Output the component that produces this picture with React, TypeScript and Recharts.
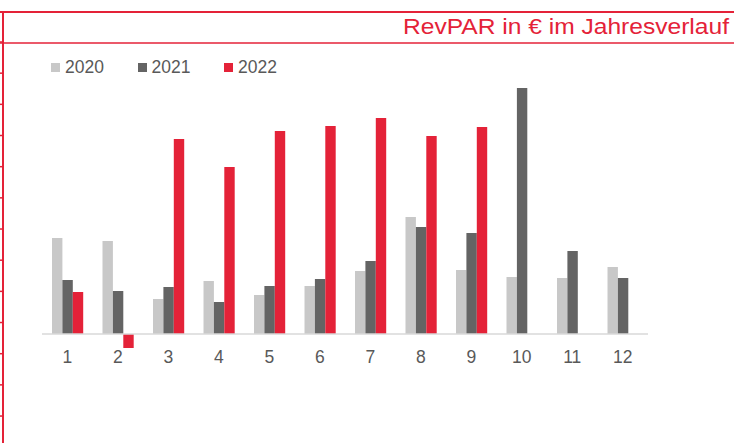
import React from 'react';
import { BarChart, Bar, XAxis, YAxis, Legend, ReferenceLine } from 'recharts';

const months = ['1', '2', '3', '4', '5', '6', '7', '8', '9', '10', '11', '12'];
const revpar2020 = [48, 46.5, 17.5, 26.5, 19.5, 24, 31.5, 58.5, 32, 28.5, 28, 33.5];
const revpar2021 = [27, 21.5, 23.5, 16, 24, 27.5, 36.5, 53.5, 50.5, 123, 41.5, 28];
const revpar2022 = [21, -7, 97.5, 83.5, 101.5, 104, 108, 99, 103.5, null, null, null];

const RED = '#E42238';
const TEXT = '#595959';
const FONT = '"Liberation Sans", Arial, sans-serif';

const data = months.map((m, i) => ({
  month: m,
  y2020: revpar2020[i],
  y2021: revpar2021[i],
  y2022: revpar2022[i],
}));

// decorative tick marks on the left frame line
const frameTicks = Array.from({ length: 13 }, (_, i) => 42 + i * 31.17);

function LegendContent(props: any) {
  const items = props.payload || [];
  return (
    <div style={{ display: 'flex', fontFamily: FONT }}>
      {items.map((it: any) => (
        <div key={it.value} style={{ width: 86.5, height: 20, display: 'flex', alignItems: 'center' }}>
          <span style={{ width: 9, height: 9, background: it.color, marginRight: 5, display: 'inline-block' }} />
          <span style={{ fontSize: 17.5, lineHeight: '20px', color: TEXT }}>{it.value}</span>
        </div>
      ))}
    </div>
  );
}

export default function App() {
  return (
    <div style={{ position: 'absolute', left: 0, top: 0, width: 734, height: 443, background: '#fff', fontFamily: FONT }}>
      <BarChart
        width={734}
        height={443}
        data={data}
        margin={{ top: 74, right: 86, left: 42, bottom: 62 }}
        barGap={0}
        barSize={10.4}
      >
        <YAxis hide domain={[-8.5, 130]} allowDataOverflow />
        <XAxis
          dataKey="month"
          axisLine={false}
          tickLine={false}
          tickSize={0}
          tickMargin={0}
          tick={{ fill: TEXT, fontSize: 17.5, fontFamily: FONT }}
        />
        <ReferenceLine y={0} stroke="#D9D9D9" strokeWidth={1.5} />
        <Legend
          layout="horizontal"
          verticalAlign="middle"
          align="center"
          wrapperStyle={{ top: 57, left: 51, width: 300 }}
          content={<LegendContent />}
        />
        <Bar dataKey="y2020" name="2020" fill="#C8C8C8" isAnimationActive={false} />
        <Bar dataKey="y2021" name="2021" fill="#646464" isAnimationActive={false} />
        <Bar dataKey="y2022" name="2022" fill={RED} isAnimationActive={false} />
      </BarChart>
      <svg width={734} height={443} style={{ position: 'absolute', left: 0, top: 0, pointerEvents: 'none' }}>
        <line x1={0} x2={734} y1={12} y2={12} stroke={RED} strokeWidth={2} />
        <line x1={0} x2={734} y1={43} y2={43} stroke={RED} strokeWidth={1.5} />
        <line x1={3} x2={3} y1={11} y2={443} stroke={RED} strokeWidth={2} />
        {frameTicks.map((y) => (
          <line key={y} x1={0} x2={3} y1={y} y2={y} stroke={RED} strokeWidth={1.5} />
        ))}
        <text
          x={729}
          y={33.6}
          textAnchor="end"
          fontSize={22.5}
          fill={RED}
          fontFamily={FONT}
          textLength={326}
          lengthAdjust="spacingAndGlyphs"
        >
          RevPAR in € im Jahresverlauf
        </text>
      </svg>
    </div>
  );
}
